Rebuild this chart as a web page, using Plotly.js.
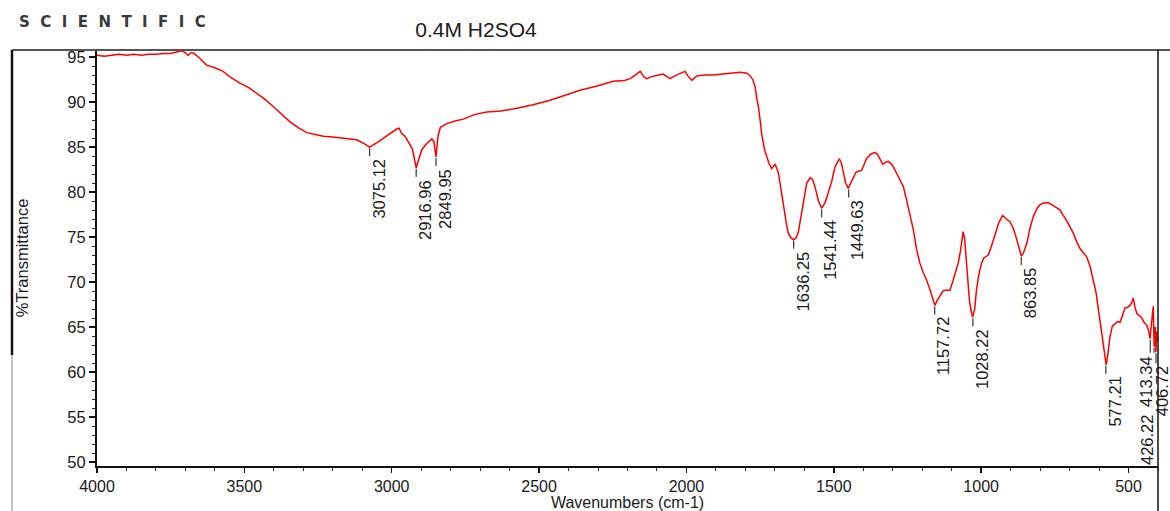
<!DOCTYPE html>
<html>
<head>
<meta charset="utf-8">
<script src="https://cdn.plot.ly/plotly-3.0.1.min.js"></script>
<style>
  html, body { margin: 0; padding: 0; background: #fff; }
  #chart { width: 1170px; height: 511px; }
</style>
</head>
<body>
<div id="chart"></div>
<script>
// ---- data ----
const wavenumbers = [
  4000, 3975, 3950, 3925, 3900, 3875, 3850, 3825, 3800, 3775, 3750, 3730, 3713, 3700, 3691, 3680, 3670,
  3650, 3628, 3600, 3572, 3545, 3515, 3485, 3458, 3430, 3402, 3375, 3345, 3315, 3288, 3260, 3232, 3200,
  3175, 3145, 3119, 3095, 3075, 3050, 3028, 3005, 2983, 2975, 2966, 2955, 2944, 2930, 2917, 2905, 2898,
  2881, 2864, 2857, 2850, 2843, 2835, 2813, 2785, 2757, 2720, 2678, 2630, 2576, 2520, 2463, 2410, 2361,
  2300, 2249, 2210, 2191, 2174, 2157, 2145, 2135, 2110, 2079, 2065, 2056, 2040, 2022, 2005, 1995, 1982,
  1965, 1940, 1910, 1880, 1850, 1818, 1795, 1784, 1775, 1767, 1761, 1756, 1750, 1745, 1735, 1728, 1720,
  1711, 1704, 1699, 1693, 1688, 1680, 1671, 1660, 1654, 1645, 1637, 1628, 1620, 1610, 1603, 1592, 1580,
  1572, 1564, 1552, 1541, 1530, 1519, 1507, 1496, 1481, 1474, 1468, 1460, 1451, 1442, 1434, 1425, 1417,
  1406, 1398, 1389, 1375, 1360, 1352, 1345, 1334, 1325, 1315, 1305, 1298, 1281, 1264, 1253, 1241, 1230,
  1219, 1208, 1196, 1185, 1173, 1165, 1157, 1150, 1140, 1130, 1123, 1115, 1106, 1095, 1085, 1078, 1070,
  1065, 1061, 1056, 1051, 1045, 1040, 1034, 1029, 1022, 1016, 1008, 999, 990, 976, 965, 953, 940, 927,
  915, 902, 890, 879, 870, 864, 857, 845, 835, 823, 810, 800, 785, 772, 755, 742, 732, 722, 715, 700,
  687, 675, 664, 652, 642, 630, 619, 610, 602, 595, 587, 580, 576, 570, 563, 555, 546, 537, 529, 520,
  512, 503, 495, 488, 484, 478, 472, 464, 455, 447, 438, 432, 427, 424, 420, 416, 415, 413, 411, 409,
  407, 405, 402, 400
];
const transmittance = [
  95.2, 95.1, 95.2, 95.3, 95.2, 95.3, 95.2, 95.3, 95.3, 95.4, 95.4, 95.6, 95.7, 95.5, 95.2, 95.5, 95.4,
  94.8, 94.1, 93.8, 93.4, 92.7, 92.1, 91.6, 91.0, 90.3, 89.5, 88.7, 87.8, 87.1, 86.6, 86.4, 86.2, 86.1,
  86.0, 85.9, 85.8, 85.4, 85.0, 85.5, 86.0, 86.5, 87.0, 87.1, 86.5, 86.2, 85.6, 84.8, 82.7, 84.0, 84.7,
  85.4, 85.9, 85.6, 83.9, 86.2, 87.2, 87.6, 87.9, 88.1, 88.6, 88.9, 89.0, 89.3, 89.7, 90.2, 90.8, 91.3,
  91.8, 92.3, 92.4, 92.6, 93.0, 93.4, 92.8, 92.6, 92.9, 93.1, 92.8, 92.6, 92.9, 93.2, 93.4, 92.9, 92.4,
  92.9, 93.0, 93.0, 93.1, 93.2, 93.3, 93.2, 92.9, 92.5, 91.7, 90.3, 89.5, 88.0, 86.5, 84.7, 83.9, 83.2,
  82.6, 82.9, 83.1, 82.6, 82.1, 80.5, 78.4, 76.3, 75.4, 74.9, 74.7, 74.9, 75.6, 77.5, 79.1, 81.0, 81.6,
  81.4, 80.6, 79.0, 78.2, 78.8, 79.9, 81.2, 82.8, 83.7, 83.2, 82.1, 81.0, 80.4, 81.0, 81.5, 82.2, 82.3,
  82.4, 83.0, 83.7, 84.2, 84.4, 84.2, 83.7, 83.1, 83.3, 83.4, 83.1, 82.8, 81.7, 80.6, 79.1, 77.3, 75.8,
  73.6, 72.1, 71.0, 70.2, 69.1, 68.2, 67.4, 67.9, 68.4, 69.0, 69.1, 69.1, 69.1, 70.2, 71.5, 72.1, 73.5,
  75.0, 75.6, 74.8, 72.8, 70.0, 68.0, 66.8, 66.1, 67.0, 69.1, 70.8, 72.1, 72.7, 73.0, 74.0, 75.2, 76.6, 77.4,
  77.0, 76.7, 75.9, 74.7, 73.5, 72.9, 73.2, 74.3, 75.9, 77.3, 78.2, 78.6, 78.8, 78.8, 78.5, 78.2, 78.0, 77.4, 77.1, 76.2,
  75.4, 74.4, 73.7, 73.2, 72.8, 71.7, 70.2, 68.8, 66.9, 65.2, 63.6, 61.6, 60.8, 62.0, 63.9, 65.1, 65.4, 65.6, 65.5, 66.3,
  67.1, 67.2, 67.4, 67.8, 68.2, 67.2, 66.5, 66.3, 66.0, 65.5, 65.2, 64.6, 63.7, 64.8, 65.8, 67.3, 65.5, 62.8, 64.0, 65.0,
  62.2, 64.5, 63.5, 64.0
];
const peakWavenumbers = [3075.12, 2916.96, 2849.95, 1636.25, 1541.44, 1449.63, 1157.72, 1028.22, 863.85, 577.21, 426.22, 413.34, 406.72];
const peakTransmittance = [85.0, 82.7, 83.9, 74.7, 78.2, 80.4, 67.4, 66.1, 72.9, 60.8, 63.7, 62.8, 62.2];
const peakLabels = peakWavenumbers.map(v => v.toFixed(2));
const chartTitle = '0.4M H2SO4';
const xTitle = 'Wavenumbers (cm-1)';
const yTitle = '%Transmittance';
const brandText = 'SCIENTIFIC';

// ---- styling ----
const FONT = 'Liberation Sans, Arial, sans-serif';
const W = 1170, H = 511;
const M = { l: 97, r: 12, t: 50, b: 45 };
const plotW = W - M.l - M.r, plotH = H - M.t - M.b;
const px2paperX = p => (p - M.l) / plotW;
const px2paperY = p => 1 - (p - M.t) / plotH;

// per-label pixel shifts (cluster at the low wavenumber end)
const labelShift = {
  '426.22': { xs: -13, ys: -75, tick: 14 },
  '413.34': { xs: -17, ys: -9, tick: 6 },
  '406.72': { xs: -3, ys: -13, tick: 11 }
};

const trace = {
  x: wavenumbers,
  y: transmittance,
  type: 'scatter',
  mode: 'lines',
  line: { color: '#ff0000', width: 1.5 },
  hoverinfo: 'x+y'
};

const shapes = [];
const annotations = [];

peakWavenumbers.forEach((wn, i) => {
  const s = labelShift[peakLabels[i]] || { xs: 0, ys: -11, tick: 9 };
  shapes.push({
    type: 'line', xref: 'x', yref: 'y', ysizemode: 'pixel', yanchor: peakTransmittance[i],
    x0: wn, x1: wn, y0: -1, y1: -s.tick,
    line: { color: '#444', width: 1.3 }
  });
  annotations.push({
    x: wn, y: peakTransmittance[i], xref: 'x', yref: 'y',
    text: peakLabels[i], showarrow: false, textangle: -90,
    xanchor: 'left', yanchor: 'top', xshift: s.xs - 1, yshift: s.ys,
    font: { family: FONT, size: 16.5, color: '#1a1a1a' },
    borderpad: 0
  });
});

// frame lines around the figure
shapes.push(
  { type: 'line', xref: 'paper', yref: 'paper', x0: px2paperX(12), x1: px2paperX(1170), y0: 1, y1: 1,
    line: { color: '#555', width: 2 } },
  { type: 'line', xref: 'paper', yref: 'paper', x0: 1, x1: 1, y0: 1, y1: px2paperY(511),
    line: { color: '#111', width: 1.5 } },
  { type: 'line', xref: 'paper', yref: 'paper', x0: px2paperX(12), x1: px2paperX(12), y0: 1, y1: px2paperY(355),
    line: { color: '#111', width: 2.5 } },
  { type: 'line', xref: 'paper', yref: 'paper', x0: px2paperX(12), x1: px2paperX(12), y0: px2paperY(355), y1: px2paperY(511),
    line: { color: '#888', width: 1 } }
);

annotations.push({
  xref: 'paper', yref: 'paper', x: px2paperX(17), y: px2paperY(22),
  xanchor: 'left', yanchor: 'middle', showarrow: false,
  text: '<b>' + brandText.split('').join('\u00A0\u00A0') + '</b>',
  font: { family: 'DejaVu Sans, sans-serif', size: 15, color: '#3a3a3a' }
});

const layout = {
  width: W, height: H,
  margin: M,
  paper_bgcolor: '#fff', plot_bgcolor: '#fff',
  showlegend: false,
  font: { family: FONT, size: 16, color: '#1a1a1a' },
  title: {
    text: chartTitle, xref: 'container', yref: 'container',
    x: 476 / W, y: 1 - 30 / H, xanchor: 'center', yanchor: 'middle',
    font: { family: FONT, size: 21, color: '#1a1a1a' }
  },
  xaxis: {
    range: [4000, 400], autorange: false,
    showgrid: false, zeroline: false,
    showline: true, linecolor: '#111', linewidth: 2,
    ticks: 'outside', ticklen: 5, tickwidth: 1.5, tickcolor: '#111',
    dtick: 500, tick0: 0,
    minor: { dtick: 100, ticks: 'outside', ticklen: 3, tickwidth: 1, tickcolor: '#333', showgrid: false },
    tickfont: { family: FONT, size: 16, color: '#1a1a1a' },
    title: { text: xTitle, standoff: 8, font: { family: FONT, size: 16, color: '#1a1a1a' } }
  },
  yaxis: {
    range: [49.56, 95.78], autorange: false,
    showgrid: false, zeroline: false,
    showline: true, linecolor: '#111', linewidth: 2,
    ticks: 'outside', ticklen: 6, tickwidth: 1.5, tickcolor: '#111',
    dtick: 5, tick0: 0,
    minor: { dtick: 1, ticks: 'outside', ticklen: 3, tickwidth: 1, tickcolor: '#333', showgrid: false },
    tickfont: { family: FONT, size: 16.5, color: '#1a1a1a' },
    title: { text: yTitle, standoff: 35, font: { family: FONT, size: 16.5, color: '#1a1a1a' } }
  },
  shapes: shapes,
  annotations: annotations
};

Plotly.newPlot('chart', [trace], layout, { displayModeBar: false, staticPlot: true });
</script>
</body>
</html>
